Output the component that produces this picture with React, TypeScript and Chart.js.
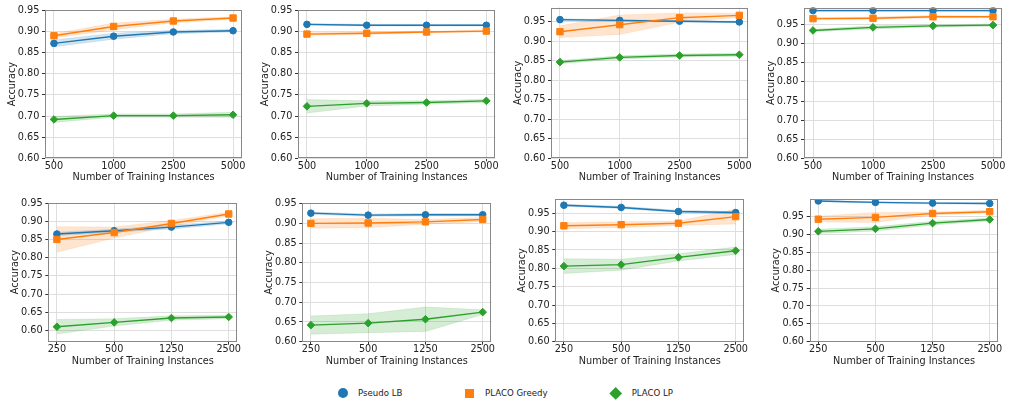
import React, { useEffect, useRef } from "react";
import { Chart, registerables } from "chart.js";

Chart.register(...registerables);

// Training-set sizes on the x axis
const SIZES_TOP = ["500", "1000", "2500", "5000"];
const SIZES_BOTTOM = ["250", "500", "1250", "2500"];
const Y_TICKS = [0.6, 0.65, 0.7, 0.75, 0.8, 0.85, 0.9, 0.95];

// Mean accuracy and spread per method, one group per panel
const p1LB = [0.872, 0.889, 0.899, 0.902];
const p1LBErr = [0.008, 0.007, 0.004, 0.003];
const p1Greedy = [0.89, 0.912, 0.925, 0.932];
const p1GreedyErr = [0.005, 0.008, 0.004, 0.003];
const p1LP = [0.692, 0.701, 0.701, 0.703];
const p1LPErr = [0.007, 0.004, 0.004, 0.006];

const p2LB = [0.917, 0.915, 0.915, 0.915];
const p2LBErr = [0.002, 0.002, 0.002, 0.002];
const p2Greedy = [0.894, 0.896, 0.899, 0.901];
const p2GreedyErr = [0.003, 0.003, 0.002, 0.002];
const p2LP = [0.723, 0.73, 0.732, 0.736];
const p2LPErr = [0.016, 0.006, 0.004, 0.004];

const p3LB = [0.956, 0.954, 0.952, 0.95];
const p3LBErr = [0.002, 0.002, 0.002, 0.002];
const p3Greedy = [0.925, 0.943, 0.961, 0.967];
const p3GreedyErr = [0.015, 0.025, 0.012, 0.005];
const p3LP = [0.847, 0.859, 0.864, 0.866];
const p3LPErr = [0.004, 0.004, 0.004, 0.004];

const p4LB = [0.987, 0.987, 0.987, 0.987];
const p4LBErr = [0.002, 0.002, 0.002, 0.002];
const p4Greedy = [0.966, 0.967, 0.971, 0.971];
const p4GreedyErr = [0.003, 0.003, 0.003, 0.002];
const p4LP = [0.935, 0.943, 0.947, 0.949];
const p4LPErr = [0.003, 0.004, 0.003, 0.003];

const p5LB = [0.865, 0.874, 0.884, 0.897];
const p5LBErr = [0.005, 0.004, 0.005, 0.004];
const p5Greedy = [0.85, 0.869, 0.894, 0.92];
const p5GreedyErr = [0.035, 0.015, 0.008, 0.005];
const p5LP = [0.61, 0.622, 0.634, 0.637];
const p5LPErr = [0.02, 0.01, 0.006, 0.005];

const p6LB = [0.926, 0.921, 0.922, 0.922];
const p6LBErr = [0.003, 0.003, 0.003, 0.003];
const p6Greedy = [0.9, 0.901, 0.904, 0.91];
const p6GreedyErr = [0.012, 0.012, 0.006, 0.005];
const p6LP = [0.642, 0.647, 0.657, 0.675];
const p6LPErr = [0.023, 0.024, 0.031, 0.006];

const p7LB = [0.972, 0.966, 0.955, 0.952];
const p7LBErr = [0.003, 0.003, 0.003, 0.003];
const p7Greedy = [0.916, 0.919, 0.923, 0.941];
const p7GreedyErr = [0.008, 0.008, 0.006, 0.02];
const p7LP = [0.806, 0.81, 0.83, 0.848];
const p7LPErr = [0.02, 0.015, 0.01, 0.01];

const p8LB = [0.994, 0.99, 0.988, 0.987];
const p8LBErr = [0.002, 0.002, 0.002, 0.002];
const p8Greedy = [0.943, 0.948, 0.959, 0.964];
const p8GreedyErr = [0.008, 0.014, 0.004, 0.004];
const p8LP = [0.909, 0.916, 0.932, 0.942];
const p8LPErr = [0.006, 0.006, 0.005, 0.004];

const BLUE = "#1f77b4";
const ORANGE = "#ff7f0e";
const GREEN = "#2ca02c";
const BLUE_BAND = "rgba(31,119,180,0.2)";
const ORANGE_BAND = "rgba(255,127,14,0.2)";
const GREEN_BAND = "rgba(44,160,44,0.2)";

const FONT = "'DejaVu Sans', 'Liberation Sans', sans-serif";
const TEXT = "#222";
const GRID = "#dedede";
const SPINE = "#888";
const CELL_W = 253;
const CELL_H = 190;

type Frame = {
  cx: number; cy: number; L: number; R: number; T: number; B: number;
  yMin: number; yMax: number;
};

type Series = { mean: number[]; err: number[] };

type PanelProps = {
  frame: Frame;
  labels: string[];
  lb: Series;
  greedy: Series;
  lp: Series;
};

// Closed box around the plotting area, drawn above the data
const frameBorder = {
  id: "frameBorder",
  afterDatasetsDraw(chart: any) {
    const { ctx, chartArea } = chart;
    ctx.save();
    ctx.strokeStyle = SPINE;
    ctx.lineWidth = 1;
    const l = Math.round(chartArea.left) + 0.5;
    const t = Math.round(chartArea.top) + 0.5;
    const r = Math.round(chartArea.right) - 0.5;
    const b = Math.round(chartArea.bottom) - 0.5;
    ctx.strokeRect(l, t, r - l, b - t);
    ctx.restore();
  },
};

function toPoints(vals: number[]) {
  return vals.map((v, i) => ({ x: i, y: v }));
}

function edge(s: Series, sign: number) {
  return s.mean.map((v, i) => ({ x: i, y: v + sign * s.err[i] }));
}

function lineSet(s: Series, color: string, pointStyle: string, radius: number) {
  return {
    data: toPoints(s.mean),
    borderColor: color,
    backgroundColor: color,
    borderWidth: 1.4,
    pointStyle,
    pointRadius: radius,
    pointBorderWidth: 1,
    pointBackgroundColor: color,
    pointBorderColor: color,
    fill: false,
    tension: 0,
  };
}

function bandSets(s: Series, color: string) {
  return [
    {
      data: edge(s, 1),
      borderColor: color,
      borderWidth: 0.6,
      pointRadius: 0,
      fill: false,
      tension: 0,
    },
    {
      data: edge(s, -1),
      borderColor: color,
      borderWidth: 0.6,
      backgroundColor: color,
      pointRadius: 0,
      fill: "-1",
      tension: 0,
    },
  ];
}

function Panel({ frame, labels, lb, greedy, lp }: PanelProps) {
  const ref = useRef<HTMLCanvasElement | null>(null);

  useEffect(() => {
    if (!ref.current) return;
    const { cx, cy, L, R, T, B, yMin, yMax } = frame;
    const yAxisWidth = L - cx;
    const xAxisHeight = cy + CELL_H - B;
    const font = { family: FONT, size: 9.7, lineHeight: 1.2 };
    const tickFont = { family: FONT, size: 9.7, lineHeight: 1 };

    const chart = new Chart(ref.current, {
      type: "line",
      data: {
        datasets: [
          lineSet(lp, GREEN, "rectRot", 3.8),
          lineSet(greedy, ORANGE, "rect", 4.5),
          lineSet(lb, BLUE, "circle", 3.3),
          ...bandSets(lb, BLUE_BAND),
          ...bandSets(greedy, ORANGE_BAND),
          ...bandSets(lp, GREEN_BAND),
        ] as any,
      },
      options: {
        animation: false,
        responsive: false,
        devicePixelRatio: 1,
        events: [],
        layout: {
          padding: { left: 0, bottom: 0, top: T - cy, right: cx + CELL_W - R },
        },
        plugins: {
          legend: { display: false },
          tooltip: { enabled: false },
          filler: { drawTime: "beforeDatasetsDraw" },
        } as any,
        scales: {
          x: {
            type: "linear",
            min: -0.15,
            max: 3.15,
            afterBuildTicks: (s: any) => {
              s.ticks = labels.map((_, i) => ({ value: i }));
            },
            afterFit: (s: any) => {
              s.height = xAxisHeight;
            },
            ticks: {
              autoSkip: false,
              maxRotation: 0,
              padding: 0,
              font: tickFont,
              color: TEXT,
              callback: (v: any) => labels[Math.round(Number(v))] ?? "",
            },
            grid: { color: GRID, lineWidth: 1, tickColor: "#333", tickLength: 3, tickWidth: 1 },
            border: { display: false },
            title: {
              display: true,
              text: "Number of Training Instances",
              font,
              color: TEXT,
              padding: { top: 0, bottom: xAxisHeight - 19.4 - 5.8 },
            },
          },
          y: {
            type: "linear",
            min: yMin,
            max: yMax,
            afterBuildTicks: (s: any) => {
              s.ticks = Y_TICKS.filter((v) => v >= yMin - 1e-9 && v <= yMax + 1e-9).map((v) => ({ value: v }));
            },
            afterFit: (s: any) => {
              s.width = yAxisWidth;
            },
            ticks: {
              autoSkip: false,
              padding: 2.7,
              font: tickFont,
              color: TEXT,
              callback: (v: any) => Number(v).toFixed(2),
            },
            grid: { color: GRID, lineWidth: 1, tickColor: "#333", tickLength: 3, tickWidth: 1 },
            border: { display: false },
            title: {
              display: true,
              text: "Accuracy",
              font,
              color: TEXT,
              padding: { top: yAxisWidth - 33 - 5.8, bottom: 0 },
            },
          },
        },
      } as any,
      plugins: [frameBorder],
    });
    return () => chart.destroy();
  }, [frame, labels, lb, greedy, lp]);

  return (
    <canvas
      ref={ref}
      width={CELL_W}
      height={CELL_H}
      style={{ position: "absolute", left: frame.cx, top: frame.cy, width: CELL_W, height: CELL_H }}
    />
  );
}

const PANELS: PanelProps[] = [
  {
    frame: { cx: 0, cy: 0, L: 45, R: 242, T: 10, B: 158.3, yMin: 0.6, yMax: 0.951 },
    labels: SIZES_TOP,
    lb: { mean: p1LB, err: p1LBErr },
    greedy: { mean: p1Greedy, err: p1GreedyErr },
    lp: { mean: p1LP, err: p1LPErr },
  },
  {
    frame: { cx: 253, cy: 0, L: 298, R: 495.3, T: 10, B: 158.3, yMin: 0.6, yMax: 0.951 },
    labels: SIZES_TOP,
    lb: { mean: p2LB, err: p2LBErr },
    greedy: { mean: p2Greedy, err: p2GreedyErr },
    lp: { mean: p2LP, err: p2LPErr },
  },
  {
    frame: { cx: 506, cy: 0, L: 551, R: 748.3, T: 6, B: 158.3, yMin: 0.6, yMax: 0.987 },
    labels: SIZES_TOP,
    lb: { mean: p3LB, err: p3LBErr },
    greedy: { mean: p3Greedy, err: p3GreedyErr },
    lp: { mean: p3LP, err: p3LPErr },
  },
  {
    frame: { cx: 759, cy: 0, L: 804, R: 1002, T: 6, B: 158.3, yMin: 0.6, yMax: 0.995 },
    labels: SIZES_TOP,
    lb: { mean: p4LB, err: p4LBErr },
    greedy: { mean: p4Greedy, err: p4GreedyErr },
    lp: { mean: p4LP, err: p4LPErr },
  },
  {
    frame: { cx: 0, cy: 190, L: 48.3, R: 237.3, T: 202.7, B: 341.7, yMin: 0.569, yMax: 0.951 },
    labels: SIZES_BOTTOM,
    lb: { mean: p5LB, err: p5LBErr },
    greedy: { mean: p5Greedy, err: p5GreedyErr },
    lp: { mean: p5LP, err: p5LPErr },
  },
  {
    frame: { cx: 253, cy: 190, L: 302.3, R: 491.3, T: 203.3, B: 341.7, yMin: 0.6, yMax: 0.951 },
    labels: SIZES_BOTTOM,
    lb: { mean: p6LB, err: p6LBErr },
    greedy: { mean: p6Greedy, err: p6GreedyErr },
    lp: { mean: p6LP, err: p6LPErr },
  },
  {
    frame: { cx: 506, cy: 190, L: 555.3, R: 744.3, T: 199, B: 341.7, yMin: 0.6, yMax: 0.989 },
    labels: SIZES_BOTTOM,
    lb: { mean: p7LB, err: p7LBErr },
    greedy: { mean: p7Greedy, err: p7GreedyErr },
    lp: { mean: p7LP, err: p7LPErr },
  },
  {
    frame: { cx: 759, cy: 190, L: 809.7, R: 998.3, T: 199, B: 341.7, yMin: 0.6, yMax: 0.9995 },
    labels: SIZES_BOTTOM,
    lb: { mean: p8LB, err: p8LBErr },
    greedy: { mean: p8Greedy, err: p8GreedyErr },
    lp: { mean: p8LP, err: p8LPErr },
  },
];

const legendText: React.CSSProperties = {
  position: "absolute",
  top: 393.3 - 6,
  height: 12,
  lineHeight: "12px",
  fontFamily: FONT,
  fontSize: 8.6,
  color: TEXT,
  whiteSpace: "nowrap",
};

function Legend() {
  return (
    <>
      <div
        style={{
          position: "absolute", left: 342.7 - 5, top: 393.3 - 5, width: 10, height: 10,
          borderRadius: "50%", background: BLUE,
        }}
      />
      <div style={{ ...legendText, left: 358 }}>Pseudo LB</div>
      <div
        style={{
          position: "absolute", left: 469.3 - 4.7, top: 393.3 - 4.7, width: 9.4, height: 9.4,
          background: ORANGE,
        }}
      />
      <div style={{ ...legendText, left: 485 }}>PLACO Greedy</div>
      <div
        style={{
          position: "absolute", left: 616 - 4.7, top: 393.3 - 4.7, width: 9.4, height: 9.4,
          background: GREEN, transform: "rotate(45deg)",
        }}
      />
      <div style={{ ...legendText, left: 631.7 }}>PLACO LP</div>
    </>
  );
}

export default function App() {
  return (
    <div
      style={{
        position: "absolute", left: 0, top: 0, width: 1012, height: 406,
        background: "#fff", overflow: "hidden",
      }}
    >
      {PANELS.map((p, i) => (
        <Panel key={i} {...p} />
      ))}
      <Legend />
    </div>
  );
}
